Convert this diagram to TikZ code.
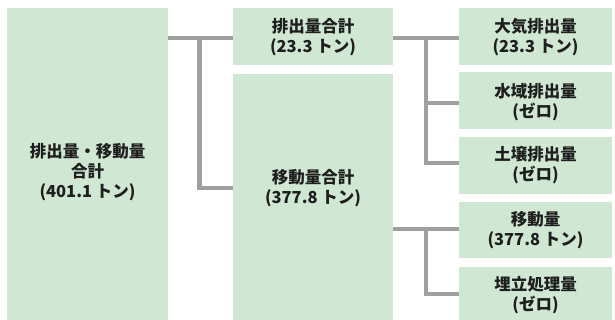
\documentclass[tikz,border=0pt]{standalone}
\usepackage{fontspec}
\setmainfont{Noto Sans CJK JP}
\definecolor{boxgreen}{HTML}{D0E8D3}
\definecolor{linegray}{HTML}{A0A0A0}
\definecolor{txt}{HTML}{1E1E1E}
\begin{document}
\begin{tikzpicture}[x=1pt,y=-1pt,
  box/.style={draw=none,fill=boxgreen,inner sep=0pt,anchor=north west},
  lbl/.style={text=txt,font=\bfseries\fontsize{16.5}{20}\selectfont,align=center,inner sep=0pt},
  conn/.style={draw=linegray,line width=4.5pt,line join=miter}]
\useasboundingbox (0,0) rectangle (615,320);
% boxes
\node[box,minimum width=161pt,minimum height=312pt] (L) at (7,8) {};
\node[box,minimum width=160pt,minimum height=57pt] (MT) at (233,8) {};
\node[box,minimum width=160pt,minimum height=246pt] (MB) at (233,74) {};
\node[box,minimum width=153pt,minimum height=57pt] (R1) at (459,8) {};
\node[box,minimum width=153pt,minimum height=57pt] (R2) at (459,72) {};
\node[box,minimum width=153pt,minimum height=57pt] (R3) at (459,137) {};
\node[box,minimum width=153pt,minimum height=56pt] (R4) at (459,202) {};
\node[box,minimum width=153pt,minimum height=53pt] (R5) at (459,267) {};
% labels
\node[lbl] (tL) at (87.5,172.5) {排出量・移動量\\合計\\(401.1 トン)};
\node[lbl] (tMT) at (313,37.5) {排出量合計\\(23.3 トン)};
\node[lbl] (tMB) at (313,188) {移動量合計\\(377.8 トン)};
\node[lbl] (t1) at (535.5,37.5) {大気排出量\\(23.3 トン)};
\node[lbl] (t2) at (535.5,102) {水域排出量\\(ゼロ)};
\node[lbl] (t3) at (535.5,165) {土壌排出量\\(ゼロ)};
\node[lbl] (t4) at (535.5,230) {移動量\\(377.8 トン)};
\node[lbl] (t5) at (535.5,295) {埋立処理量\\(ゼロ)};
% junctions
\coordinate (jA) at (199.5,38);
\coordinate (jA2) at (199.5,188);
\coordinate (jB) at (426,38);
\coordinate (jB2) at (426,103);
\coordinate (jB3) at (426,163);
\coordinate (jC) at (426,229);
\coordinate (jC2) at (426,294);
% connectors
\draw[conn] (L.east |- jA) -- (MT.west |- jA);
\draw[conn] (jA) -- (jA2) -- (MB.west |- jA2);
\draw[conn] (MT.east |- jB) -- (R1.west |- jB);
\draw[conn] (jB) -- (jB3) -- (R3.west |- jB3);
\draw[conn] (jB2) -- (R2.west |- jB2);
\draw[conn] (MB.east |- jC) -- (R4.west |- jC);
\draw[conn] (jC) -- (jC2) -- (R5.west |- jC2);
\end{tikzpicture}
\end{document}
